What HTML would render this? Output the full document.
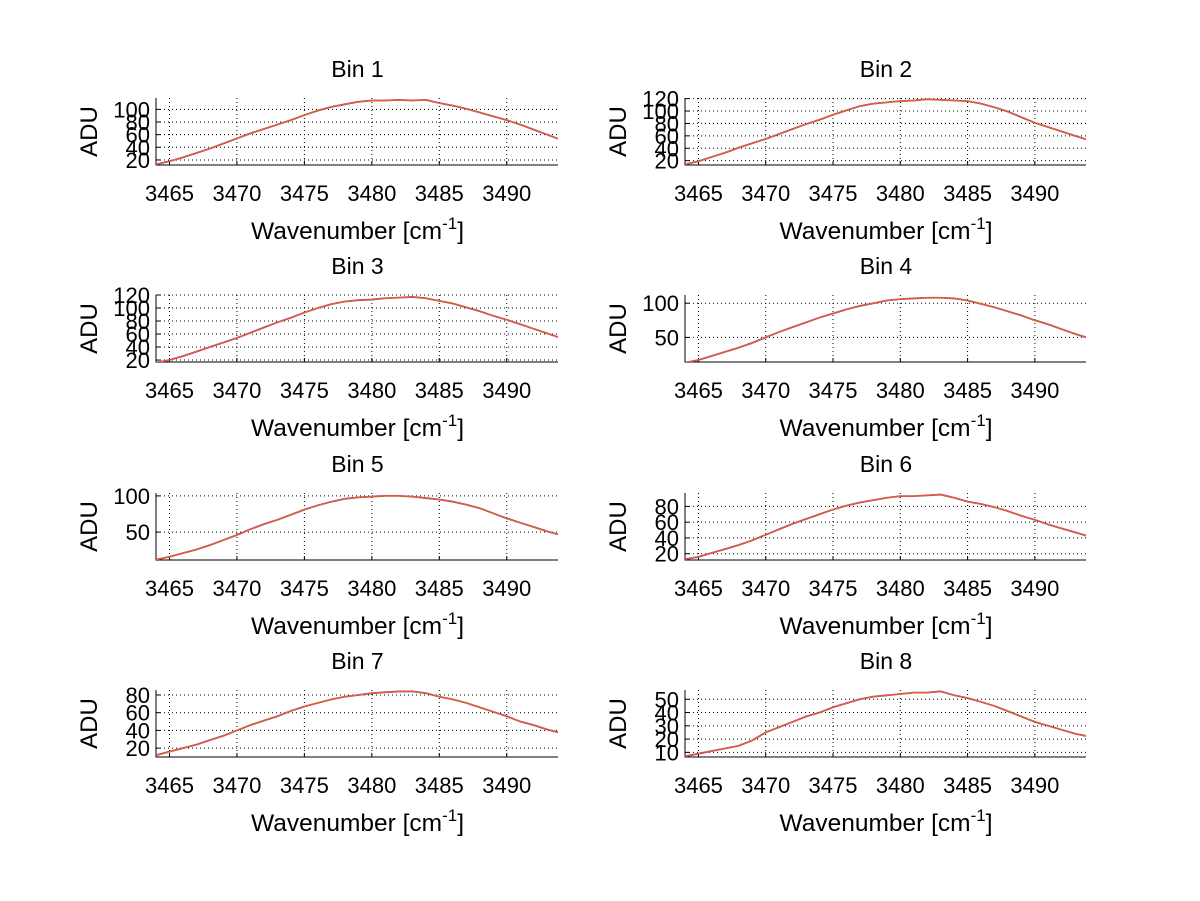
<!DOCTYPE html>
<html><head><meta charset="utf-8"><style>
html,body{margin:0;padding:0;background:#fff}
svg{display:block}
text{font-family:"Liberation Sans",sans-serif;fill:#000}
</style></head><body>
<svg id="fig" width="1200" height="901" viewBox="0 0 1200 901" xmlns="http://www.w3.org/2000/svg"></svg>
<script>
const wavenumbers=[3464,3465,3466,3467,3468,3469,3470,3471,3472,3473,3474,3475,3476,3477,3478,3479,3480,3481,3482,3483,3484,3485,3486,3487,3488,3489,3490,3491,3492,3493,3494];
const xTicks=[3465,3470,3475,3480,3485,3490];
const bin1=[13,18,24,31,38,46,54,62,69,76,83,91,98,104,108,112,114,114,115,114,115,110,106,101,95,89,83,76,68,60,52];
const bin2=[14,19,26,33,41,48,55,63,71,79,86,94,101,108,112,114,116,117,119,118,117,116,112,106,99,90,81,74,67,60,53];
const bin3=[16,20,26,33,40,47,54,62,70,78,85,93,100,106,110,112,113,115,116,117,115,111,107,101,95,88,82,75,68,61,54];
const bin4=[13,17,23,29,35,42,50,58,65,72,79,85,91,96,100,104,106,107,108,108,107,104,99,94,88,82,75,69,62,55,49];
const bin5=[12,16,21,26,32,39,46,54,61,67,74,81,87,92,96,98,99,100,100,99,97,95,92,88,83,76,69,63,57,51,46];
const bin6=[13,16,21,26,31,37,44,51,58,64,70,76,81,85,88,91,93,93,94,95,91,86,83,79,74,68,63,57,52,47,42];
const bin7=[12,16,20,24,29,34,40,46,51,56,62,67,71,75,78,80,82,83,84,84,82,78,75,71,66,61,56,50,46,41,37];
const bin8=[7,9,11,13,15,19,25,29,33,37,40,44,47,50,52,53,54,55,55,56,53,51,48,45,41,37,33,30,27,24,22];
const yTicks1=[20,40,60,80,100];
const yTicks2=[20,40,60,80,100,120];
const yTicks3=[20,40,60,80,100,120];
const yTicks4=[50,100];
const yTicks5=[50,100];
const yTicks6=[20,40,60,80];
const yTicks7=[20,40,60,80];
const yTicks8=[10,20,30,40,50];
const yLims=[[12,118],[13,121],[17,120],[14,112],[11.5,104],[12,97],[10,85.6],[6.5,57]];
const xLim=[3464,3493.8];

const NS="http://www.w3.org/2000/svg";
const svg=document.getElementById('fig');
function mk(tag,attrs,parent){const e=document.createElementNS(NS,tag);for(const k in attrs)e.setAttribute(k,attrs[k]);(parent||svg).appendChild(e);return e;}

const series=[bin1,bin2,bin3,bin4,bin5,bin6,bin7,bin8];
const ticksets=[yTicks1,yTicks2,yTicks3,yTicks4,yTicks5,yTicks6,yTicks7,yTicks8];
const cols=[[156,558],[685,1086]];
const rows=[[98,165],[295,362],[493,560],[690,757]];

series.forEach((data,i)=>{
  const c=cols[i%2], r=rows[Math.floor(i/2)];
  const x0=c[0],x1=c[1],yt=r[0],yb=r[1];
  const yl=yLims[i];
  const sx=v=>x0+(v-xLim[0])/(xLim[1]-xLim[0])*(x1-x0);
  const sy=v=>yb-(v-yl[0])/(yl[1]-yl[0])*(yb-yt);
  const g=mk('g',{});
  
  
  xTicks.forEach(t=>{
    const l=mk('line',{x1:sx(t),x2:sx(t),y1:yt,y2:yb,stroke:'#000','stroke-width':1,'stroke-dasharray':'1,3'},g);
    
    
    const tk=mk('line',{x1:sx(t),x2:sx(t),y1:yb,y2:yb-4,stroke:'#000'},g);
    
    
    const tx=mk('text',{x:sx(t),y:yb+36,'text-anchor':'middle','font-size':22},g);
    tx.textContent=t;
    
    
  });
  ticksets[i].forEach(t=>{
    const l=mk('line',{x1:x0,x2:x1,y1:sy(t),y2:sy(t),stroke:'#000','stroke-width':1,'stroke-dasharray':'1,3'},g);
    
    
    const tk=mk('line',{x1:x0,x2:x0+4,y1:sy(t),y2:sy(t),stroke:'#000'},g);
    
    
    const tx=mk('text',{x:x0-6,y:sy(t)+8,'text-anchor':'end','font-size':22},g);
    tx.textContent=t;
    
    
  });
  const ax=mk('path',{d:`M${x0},${yt} L${x0},${yb} L${x1},${yb}`,fill:'none',stroke:'#000','stroke-width':1},g);
  
  
  const pts=data.map((v,k)=>[sx(wavenumbers[k]),sy(v)]);
  const clipId='clip'+i;
  const cp=mk('clipPath',{id:clipId},g);
  mk('rect',{x:x0,y:yt-5,width:x1-x0,height:yb-yt+5},cp);
  const pb=mk('polyline',{points:pts.map(p=>p.join(',')).join(' '),fill:'none',stroke:'#6a4a9a','stroke-width':1.8,'clip-path':`url(#${clipId})`},g);
  
  
  const po=mk('polyline',{points:pts.map(p=>p.join(',')).join(' '),fill:'none',stroke:'#ff5a1a','stroke-width':1.2,'clip-path':`url(#${clipId})`},g);
  
  
  const cx=(x0+x1)/2+0.5;
  const ti=mk('text',{x:cx,y:yt-21,'text-anchor':'middle','font-size':23},g);
  ti.textContent='Bin '+(i+1);
  
  
  const xl=mk('text',{x:cx,y:yb+74,'text-anchor':'middle','font-size':24.5},g);
  xl.innerHTML='Wavenumber [cm<tspan dy="-10" font-size="17">-1</tspan><tspan dy="10">]</tspan>';
  
  
  const ylx=x0-60, yly=(yt+yb)/2;
  const ylab=mk('text',{x:ylx+1,y:yly,'text-anchor':'middle','font-size':24,transform:`rotate(-90 ${ylx+1} ${yly})`},g);
  ylab.textContent='ADU';
  
  
});
</script>
</body></html>
